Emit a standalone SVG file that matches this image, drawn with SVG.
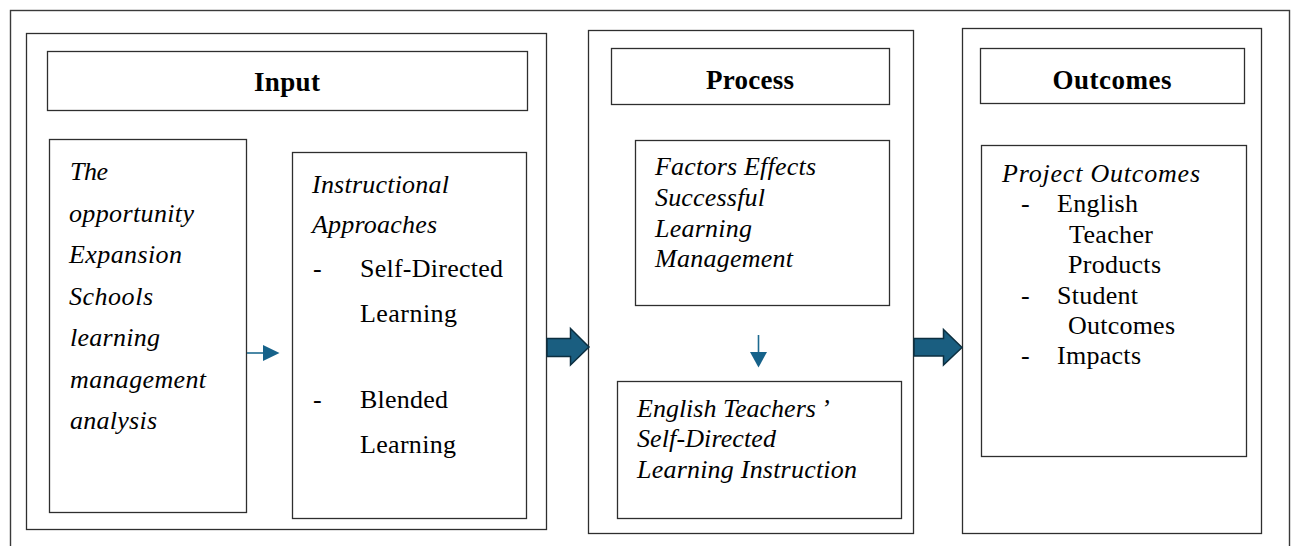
<svg xmlns="http://www.w3.org/2000/svg" width="1294" height="546" viewBox="0 0 1294 546">
  <style>
    .frame { fill: #ffffff; stroke: #3a3a3a; stroke-width: 1.4; }
    .box { fill: #ffffff; stroke: #2e2e2e; stroke-width: 1.3; }
    .hdr { font-family: "Liberation Serif", "Times New Roman", serif; font-weight: bold; font-size: 27px; fill: #000; text-anchor: middle; }
    .it { font-family: "Liberation Serif", "Times New Roman", serif; font-style: italic; font-size: 26px; fill: #000; }
    .rm { font-family: "Liberation Serif", "Times New Roman", serif; font-size: 26px; fill: #000; }
    .thin { stroke: #1d6a90; stroke-width: 1.6; fill: none; }
    .head { fill: #16628a; }
    .block { fill: #1a5e80; stroke: #0c2f40; stroke-width: 1.5; stroke-linejoin: miter; }
  </style>

  <rect width="1294" height="546" fill="#ffffff"/>
  <!-- outer frame (runs past the bottom edge) -->
  <rect class="frame" x="10.5" y="10.5" width="1279" height="600"/>

  <!-- INPUT column -->
  <g id="input">
    <rect class="box" x="26.5" y="33.5" width="520" height="496"/>
    <rect class="box" x="47.5" y="51.5" width="480" height="59"/>
    <text class="hdr" x="287" y="91" textLength="66" lengthAdjust="spacing">Input</text>
  </g>

  <g id="context">
    <rect class="box" x="49.5" y="139.5" width="197" height="373"/>
    <text class="it" x="70" y="180" textLength="38" lengthAdjust="spacing">The</text>
    <text class="it" x="69" y="221.5" textLength="125" lengthAdjust="spacing">opportunity</text>
    <text class="it" x="69" y="263" textLength="113" lengthAdjust="spacing">Expansion</text>
    <text class="it" x="69" y="304.5" textLength="84" lengthAdjust="spacing">Schools</text>
    <text class="it" x="70" y="346" textLength="90" lengthAdjust="spacing">learning</text>
    <text class="it" x="70" y="387.5" textLength="136" lengthAdjust="spacing">management</text>
    <text class="it" x="70" y="429" textLength="87" lengthAdjust="spacing">analysis</text>
  </g>

  <g id="approaches">
    <rect class="box" x="292.5" y="152.5" width="234" height="366"/>
    <text class="it" x="312" y="193" textLength="137" lengthAdjust="spacing">Instructional</text>
    <text class="it" x="312" y="233" textLength="125" lengthAdjust="spacing">Approaches</text>
    <text class="rm" x="313" y="276.5">-</text>
    <text class="rm" x="360" y="276.5" textLength="143" lengthAdjust="spacing">Self-Directed</text>
    <text class="rm" x="360" y="321.5" textLength="97" lengthAdjust="spacing">Learning</text>
    <text class="rm" x="313" y="408">-</text>
    <text class="rm" x="360" y="408" textLength="88" lengthAdjust="spacing">Blended</text>
    <text class="rm" x="360" y="453" textLength="96" lengthAdjust="spacing">Learning</text>
  </g>

  <!-- PROCESS column -->
  <g id="process">
    <rect class="box" x="588.5" y="30.5" width="325" height="503"/>
    <rect class="box" x="611.5" y="48.5" width="278" height="56"/>
    <text class="hdr" x="750" y="89" textLength="88" lengthAdjust="spacing">Process</text>
  </g>

  <g id="factors">
    <rect class="box" x="635.5" y="140.5" width="254" height="165"/>
    <text class="it" x="655" y="175" textLength="161" lengthAdjust="spacing">Factors Effects</text>
    <text class="it" x="655" y="206" textLength="110" lengthAdjust="spacing">Successful</text>
    <text class="it" x="655" y="236.5" textLength="97" lengthAdjust="spacing">Learning</text>
    <text class="it" x="655" y="267" textLength="138" lengthAdjust="spacing">Management</text>
  </g>

  <g id="instruction">
    <rect class="box" x="617.5" y="381.5" width="284" height="137"/>
    <text class="it" x="637" y="416.5">English Teachers<tspan dx="5">’</tspan></text>
    <text class="it" x="637" y="447" textLength="139" lengthAdjust="spacing">Self-Directed</text>
    <text class="it" x="637" y="478" textLength="220" lengthAdjust="spacing">Learning Instruction</text>
  </g>

  <!-- OUTCOMES column -->
  <g id="outcomes">
    <rect class="box" x="962.5" y="28.5" width="299" height="505"/>
    <rect class="box" x="980.5" y="48.5" width="264" height="55"/>
    <text class="hdr" x="1112" y="89" textLength="119" lengthAdjust="spacing">Outcomes</text>
  </g>

  <g id="project-outcomes">
    <rect class="box" x="981.5" y="145.5" width="265" height="311"/>
    <text class="it" x="1002" y="181.5" textLength="198" lengthAdjust="spacing">Project Outcomes</text>
    <text class="rm" x="1021" y="211.5">-</text>
    <text class="rm" x="1057" y="211.5" textLength="81" lengthAdjust="spacing">English</text>
    <text class="rm" x="1069" y="243" textLength="84" lengthAdjust="spacing">Teacher</text>
    <text class="rm" x="1068" y="273" textLength="93" lengthAdjust="spacing">Products</text>
    <text class="rm" x="1021" y="304">-</text>
    <text class="rm" x="1057" y="304" textLength="81" lengthAdjust="spacing">Student</text>
    <text class="rm" x="1068" y="334" textLength="107" lengthAdjust="spacing">Outcomes</text>
    <text class="rm" x="1021" y="363.5">-</text>
    <text class="rm" x="1057" y="363.5" textLength="84" lengthAdjust="spacing">Impacts</text>
  </g>

  <!-- connectors -->
  <g id="connectors">
    <line class="thin" x1="247" y1="353" x2="264" y2="353"/>
    <polygon class="head" points="263,345 279.5,353 263,361"/>
    <line class="thin" x1="758.5" y1="335" x2="758.5" y2="353"/>
    <polygon class="head" points="750,352 767,352 758.5,367.5"/>
    <polygon class="block" points="547,338.5 570.5,338.5 570.5,328.5 589,347 570.5,365 570.5,356.5 547,356.5"/>
    <polygon class="block" points="914,338.5 943.5,338.5 943.5,329.5 962,347.5 943.5,365 943.5,356 914,356"/>
  </g>
</svg>
